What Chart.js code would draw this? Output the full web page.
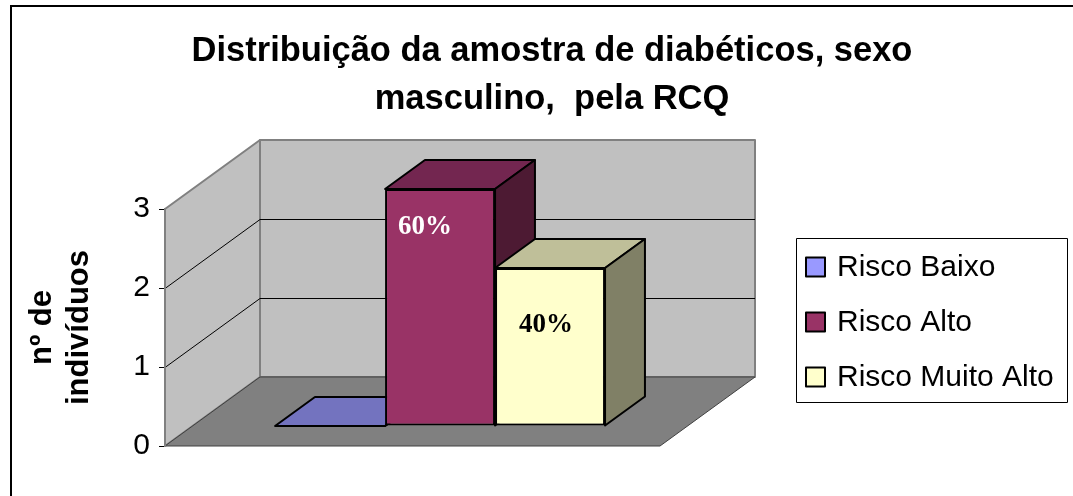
<!DOCTYPE html>
<html>
<head>
<meta charset="utf-8">
<title>Distribuição da amostra de diabéticos - RCQ</title>
<script src="https://cdn.jsdelivr.net/npm/chart.js@4.4.1/dist/chart.umd.min.js"></script>
<style>
    html, body { margin: 0; padding: 0; background: #fff; }
    #wrap { width: 1073px; height: 496px; position: relative; }
</style>
</head>
<body>
<div id="wrap"><canvas id="rcqChart"></canvas></div>
<script>
// Chart data
const titleLines = ['Distribuição da amostra de diabéticos, sexo', 'masculino,  pela RCQ'];
const axisTitle = ['nº de', 'indivíduos'];
const seriesNames = ['Risco Baixo', 'Risco Alto', 'Risco Muito Alto'];
const seriesValues = [0, 3, 2];
const yTicks = [0, 1, 2, 3];

// Look of the bars (front / top / side faces) and their labels
const frontColors = ['#9999FF', '#993366', '#FFFFCC'];
const topColors = ['#7373BF', '#732650', '#BFBF99'];
const sideColors = ['#4D4D80', '#4D1A33', '#808066'];
const labelColors = ['#000000', '#FFFFFF', '#000000'];
const labelShift = [[0, 0], [-15, 38], [-4, 57]];

// 3D box: depth of the floor, and where the bars sit inside it
const depth = { x: 95, y: -69 };
const barFront = 0.29;
const barBack = 0.71;

Chart.defaults.font.family = '"Liberation Sans", Arial, sans-serif';
Chart.defaults.color = '#000';

function poly(ctx, pts, fill, stroke, lw) {
    ctx.beginPath();
    ctx.moveTo(pts[0][0], pts[0][1]);
    for (let i = 1; i < pts.length; i++) ctx.lineTo(pts[i][0], pts[i][1]);
    ctx.closePath();
    if (fill) { ctx.fillStyle = fill; ctx.fill(); }
    if (stroke) {
        ctx.strokeStyle = stroke;
        ctx.lineWidth = lw;
        ctx.lineJoin = 'round';
        ctx.stroke();
    }
}

const excel3d = {
    id: 'excel3d',
    beforeDraw(chart) {
        const { ctx, chartArea: a, scales: { y } } = chart;
        const dx = depth.x, dy = depth.y;
        ctx.save();

        // outer frame (top and left edges are visible)
        ctx.strokeStyle = '#000';
        ctx.lineWidth = 2;
        ctx.beginPath();
        ctx.moveTo(11, 500);
        ctx.lineTo(11, 6);
        ctx.lineTo(1080, 6);
        ctx.stroke();

        // walls
        poly(ctx, [[a.left, a.bottom], [a.left, a.top], [a.left + dx, a.top + dy], [a.left + dx, a.bottom + dy]], '#C0C0C0', '#808080', 2);
        poly(ctx, [[a.left + dx, a.top + dy], [a.right + dx, a.top + dy], [a.right + dx, a.bottom + dy], [a.left + dx, a.bottom + dy]], '#C0C0C0', '#808080', 2);
        // floor
        poly(ctx, [[a.left, a.bottom], [a.right, a.bottom], [a.right + dx, a.bottom + dy], [a.left + dx, a.bottom + dy]], '#808080', '#404040', 1);

        // grid lines on side and back walls
        ctx.strokeStyle = '#000';
        ctx.lineWidth = 1;
        y.ticks.forEach(t => {
            if (t.value <= y.min || t.value >= y.max) return;
            const py = Math.round(y.getPixelForValue(t.value)) + 0.5;
            ctx.beginPath();
            ctx.moveTo(a.left, py);
            ctx.lineTo(a.left + dx, py + dy);
            ctx.lineTo(a.right + dx, py + dy);
            ctx.stroke();
        });

        // title
        ctx.fillStyle = '#000';
        ctx.font = 'bold 34.5px "Liberation Sans", Arial, sans-serif';
        ctx.textAlign = 'center';
        ctx.textBaseline = 'middle';
        titleLines.forEach((line, i) => ctx.fillText(line, 552, 51 + i * 48));

        // legend
        ctx.strokeStyle = '#000';
        ctx.lineWidth = 1;
        ctx.strokeRect(796.5, 238.5, 271, 164);
        ctx.font = '30px "Liberation Sans", Arial, sans-serif';
        ctx.textAlign = 'left';
        chart.data.datasets.forEach((ds, i) => {
            const cy = 267 + i * 55;
            ctx.fillStyle = ds.backgroundColor;
            ctx.fillRect(806, cy - 9.5, 19, 19);
            ctx.lineWidth = 2;
            ctx.strokeRect(806, cy - 9.5, 19, 19);
            ctx.fillStyle = '#000';
            ctx.fillText(ds.label, 837, cy + 1);
        });
        ctx.restore();
    },
    beforeDatasetsDraw(chart) {
        const { ctx } = chart;
        const fx = depth.x * barFront, fy = depth.y * barFront;
        const bx = depth.x * (barBack - barFront), by = depth.y * (barBack - barFront);
        ctx.save();
        ctx.translate(fx, fy);
        // top and side faces first, left to right; the library then paints the fronts
        chart.data.datasets.forEach((ds, i) => {
            const bar = chart.getDatasetMeta(i).data[0];
            const { x, y, base, width } = bar.getProps(['x', 'y', 'base', 'width'], true);
            const l = x - width / 2, r = x + width / 2;
            poly(ctx, [[l, y], [r, y], [r + bx, y + by], [l + bx, y + by]], topColors[i], '#000', 2);
            poly(ctx, [[r, y], [r, base], [r + bx, base + by], [r + bx, y + by]], sideColors[i], '#000', 2);
        });
    },
    afterDatasetsDraw(chart) {
        const { ctx } = chart;
        ctx.restore();
        const fx = depth.x * barFront, fy = depth.y * barFront;
        const total = seriesValues.reduce((s, v) => s + v, 0);
        ctx.save();
        ctx.font = 'bold 27px "Liberation Serif", "Times New Roman", serif';
        ctx.textAlign = 'center';
        ctx.textBaseline = 'middle';
        chart.data.datasets.forEach((ds, i) => {
            const v = ds.data[0];
            if (!v) return;
            const bar = chart.getDatasetMeta(i).data[0];
            ctx.fillStyle = labelColors[i];
            ctx.fillText(Math.round(v / total * 100) + '%', bar.x + fx + labelShift[i][0], bar.y + fy + labelShift[i][1]);
        });
        ctx.restore();
    }
};

new Chart(document.getElementById('rcqChart'), {
    type: 'bar',
    data: {
        labels: [''],
        datasets: seriesNames.map((name, i) => ({
            label: name,
            data: [seriesValues[i]],
            backgroundColor: frontColors[i],
            borderColor: '#000',
            borderWidth: 2,
            borderSkipped: false,
            categoryPercentage: 2 / 3,
            barPercentage: 1,
            clip: false
        }))
    },
    options: {
        responsive: true,
        maintainAspectRatio: false,
        animation: false,
        layout: { padding: { left: 0, top: 209, right: 413, bottom: 50 } },
        plugins: {
            legend: { display: false },
            title: { display: false },
            tooltip: { enabled: false }
        },
        scales: {
            x: { display: false },
            y: {
                min: 0,
                max: 3,
                afterFit: (scale) => { scale.width = 165; },
                afterBuildTicks: (scale) => { scale.ticks = yTicks.map(v => ({ value: v })); },
                ticks: { color: '#000', padding: 9, font: { size: 30 } },
                grid: { drawOnChartArea: false, drawTicks: true, tickLength: 6, color: '#000' },
                border: { color: '#808080', width: 2 },
                title: {
                    display: true,
                    text: axisTitle,
                    color: '#000',
                    font: { size: 31, weight: 'bold', lineHeight: 37 / 31 },
                    padding: { top: 24, bottom: 0 }
                }
            }
        }
    },
    plugins: [excel3d]
});
</script>
</body>
</html>
